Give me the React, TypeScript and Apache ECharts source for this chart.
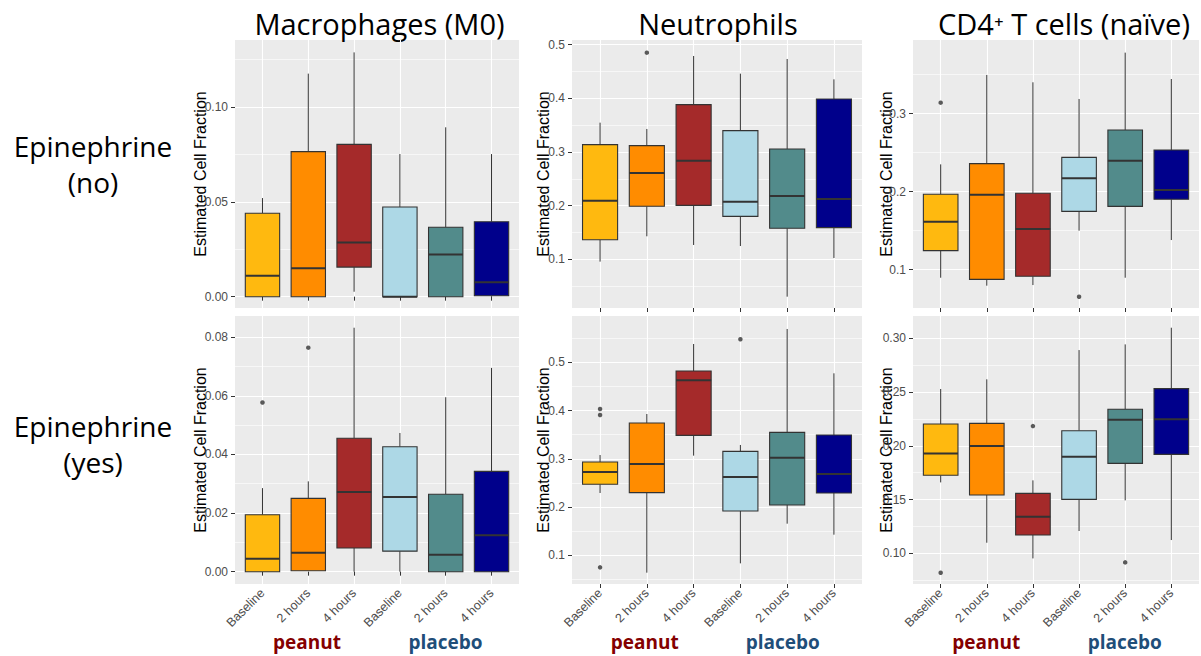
import React, { useEffect, useRef } from 'react';
import * as echarts from 'echarts';

const categories = ['Baseline', '2 hours', '4 hours', 'Baseline', '2 hours', '4 hours'];
const boxColors = ['#FFB90F', '#FF8C00', '#A52A2A', '#ADD8E6', '#528B8B', '#00008B'];
const columnTitles = ['Macrophages (M0)', 'Neutrophils', 'CD4⁺ T cells (naïve)'];
const rowTitles = ['Epinephrine\n(no)', 'Epinephrine\n(yes)'];
const groupLabels = ['peanut', 'placebo'];
const yAxisTitle = 'Estimated Cell Fraction';

// each box: [lower whisker, Q1, median, Q3, upper whisker]
const macroNo = [
  [0, 0, 0.011, 0.044, 0.052],
  [0, 0, 0.015, 0.0765, 0.1176],
  [0.0026, 0.0156, 0.0286, 0.0803, 0.1288],
  [0, 0, 0, 0.0473, 0.0752],
  [0, 0, 0.0223, 0.0366, 0.0893],
  [0, 0.0005, 0.0076, 0.0395, 0.0752],
];
const macroNoOut: number[][] = [];

const neutroNo = [
  [0.0957, 0.1366, 0.2093, 0.3137, 0.3547],
  [0.1429, 0.1988, 0.2609, 0.3118, 0.3429],
  [0.1267, 0.2006, 0.2839, 0.3882, 0.4789],
  [0.1248, 0.1801, 0.2075, 0.3398, 0.446],
  [0.0304, 0.1578, 0.218, 0.3056, 0.4733],
  [0.1025, 0.159, 0.2124, 0.3988, 0.4354],
];
const neutroNoOut = [[2, 0.4851]];

const cd4No = [
  [0.0897, 0.1244, 0.1615, 0.1966, 0.235],
  [0.0795, 0.0876, 0.1962, 0.2359, 0.3496],
  [0.0803, 0.0915, 0.1521, 0.1979, 0.3402],
  [0.15, 0.1748, 0.2171, 0.244, 0.3188],
  [0.0897, 0.1812, 0.2397, 0.2791, 0.3782],
  [0.138, 0.1902, 0.2021, 0.2534, 0.3444],
];
const cd4NoOut = [[1, 0.3141], [4, 0.0654]];

const macroYes = [
  [0, 0, 0.0044, 0.0194, 0.0285],
  [0.0003, 0.0003, 0.0065, 0.025, 0.0308],
  [0, 0.0081, 0.0272, 0.0455, 0.0832],
  [0, 0.007, 0.0255, 0.0426, 0.0473],
  [0, 0, 0.0058, 0.0264, 0.0595],
  [0, 0, 0.0124, 0.0342, 0.0695],
];
const macroYesOut = [[1, 0.0577], [2, 0.0764]];

const neutroYes = [
  [0.2292, 0.2472, 0.2727, 0.2934, 0.3079],
  [0.0641, 0.2299, 0.2893, 0.3743, 0.3929],
  [0.3066, 0.3487, 0.4627, 0.482, 0.538],
  [0.0834, 0.1919, 0.2624, 0.3155, 0.3287],
  [0.1656, 0.2043, 0.3024, 0.3549, 0.5691],
  [0.1428, 0.2292, 0.2686, 0.3494, 0.4772],
];
const neutroYesOut = [[1, 0.4033], [1, 0.3908], [1, 0.0751], [4, 0.5477]];

const cd4Yes = [
  [0.166, 0.1726, 0.193, 0.2203, 0.2529],
  [0.1099, 0.1543, 0.1998, 0.2209, 0.2619],
  [0.0953, 0.1171, 0.1341, 0.1558, 0.1679],
  [0.1208, 0.1502, 0.1899, 0.2141, 0.2891],
  [0.1493, 0.1837, 0.2243, 0.234, 0.2944],
  [0.1124, 0.1921, 0.2247, 0.2532, 0.3099],
];
const cd4YesOut = [[3, 0.2184], [5, 0.0916], [1, 0.082]];

const xTicks = [1, 2, 3, 4, 5, 6];

const panels = [
  { boxes: macroNo, out: macroNoOut, min: -0.00597, max: 0.13533, majors: [0, 0.05, 0.1], minors: [0.025, 0.075, 0.125], dec: 2 },
  { boxes: neutroNo, out: neutroNoOut, min: 0.0093, max: 0.5087, majors: [0.1, 0.2, 0.3, 0.4, 0.5], minors: [0.05, 0.15, 0.25, 0.35, 0.45], dec: 1 },
  { boxes: cd4No, out: cd4NoOut, min: 0.0509, max: 0.3944, majors: [0.1, 0.2, 0.3], minors: [0.15, 0.25, 0.35], dec: 1 },
  { boxes: macroYes, out: macroYesOut, min: -0.0042, max: 0.0872, majors: [0, 0.02, 0.04, 0.06, 0.08], minors: [0.01, 0.03, 0.05, 0.07], dec: 2 },
  { boxes: neutroYes, out: neutroYesOut, min: 0.0406, max: 0.596, majors: [0.1, 0.2, 0.3, 0.4, 0.5], minors: [0.05, 0.15, 0.25, 0.35, 0.45, 0.55], dec: 1 },
  { boxes: cd4Yes, out: cd4YesOut, min: 0.0715, max: 0.3208, majors: [0.1, 0.15, 0.2, 0.25, 0.3], minors: [0.075, 0.125, 0.175, 0.225, 0.275], dec: 2 },
];

const cols = [
  { left: 235, width: 284, yTitleX: 200, peanutX: 307, placeboX: 445.5 },
  { left: 572, width: 290, yTitleX: 543.5, peanutX: 644.7, placeboX: 782.8 },
  { left: 913, width: 286, yTitleX: 886.5, peanutX: 986.3, placeboX: 1124.7 },
];
const rows = [
  { top: 40, height: 268, labelY: 164 },
  { top: 316, height: 268, labelY: 444 },
];
const titleX = [379.5, 718, 1064];

function buildOption() {
  const grid: any[] = [];
  const xAxis: any[] = [];
  const yAxis: any[] = [];
  const series: any[] = [];
  panels.forEach((p, i) => {
    const r = Math.floor(i / 3);
    const c = i % 3;
    grid.push({
      left: cols[c].left, top: rows[r].top, width: cols[c].width, height: rows[r].height,
      show: true, backgroundColor: '#EBEBEB', borderWidth: 0,
    });
    xAxis.push({
      gridIndex: i, type: 'value', min: 0.4, max: 6.6,
      axisLine: { show: false },
      axisTick: { show: true, length: 4, lineStyle: { color: '#333333', width: 1 }, customValues: xTicks },
      axisLabel: {
        show: r === 1, customValues: xTicks, rotate: 45, margin: 7,
        formatter: (v: number) => categories[Math.round(v) - 1] || '',
        color: '#4D4D4D', fontSize: 12.5, fontFamily: 'Liberation Sans',
      },
      splitLine: { show: true, lineStyle: { color: '#FFFFFF', width: 1.1 } },
    });
    yAxis.push({
      gridIndex: i, type: 'value', min: p.min, max: p.max, position: 'left',
      axisLine: { show: false },
      axisTick: { show: true, length: 4, lineStyle: { color: '#333333', width: 1 }, customValues: p.majors },
      axisLabel: {
        customValues: p.majors, margin: 7,
        formatter: (v: number) => v.toFixed(p.dec),
        color: '#4D4D4D', fontSize: 12, fontFamily: 'Liberation Sans',
      },
      splitLine: { show: true, lineStyle: { color: '#FFFFFF', width: 1.1 } },
    });
    yAxis.push({
      gridIndex: i, type: 'value', min: p.min, max: p.max, position: 'left',
      axisLine: { show: false },
      axisTick: { show: false, customValues: p.minors },
      axisLabel: { show: false },
      splitLine: { show: true, lineStyle: { color: '#FFFFFF', width: 0.6 } },
    });
    series.push({
      type: 'custom', xAxisIndex: i, yAxisIndex: 2 * i, clip: false,
      encode: { x: 0, y: [1, 2, 3, 4, 5] },
      data: p.boxes.map((b, k) => [k + 1, ...b]),
      renderItem: (params: any, api: any) => {
        const x = api.value(0);
        const lo = api.coord([x, api.value(1)]);
        const q1 = api.coord([x, api.value(2)]);
        const md = api.coord([x, api.value(3)]);
        const q3 = api.coord([x, api.value(4)]);
        const hi = api.coord([x, api.value(5)]);
        const w = api.size([0.75, 0])[0];
        const fill = boxColors[params.dataIndex];
        const stroke = '#333333';
        return {
          type: 'group',
          children: [
            { type: 'line', shape: { x1: lo[0], y1: lo[1], x2: q1[0], y2: q1[1] }, style: { stroke, lineWidth: 1 } },
            { type: 'line', shape: { x1: q3[0], y1: q3[1], x2: hi[0], y2: hi[1] }, style: { stroke, lineWidth: 1 } },
            { type: 'rect', shape: { x: q1[0] - w / 2, y: q3[1], width: w, height: q1[1] - q3[1] }, style: { fill, stroke, lineWidth: 1.1 } },
            { type: 'line', shape: { x1: md[0] - w / 2, y1: md[1], x2: md[0] + w / 2, y2: md[1] }, style: { stroke, lineWidth: 2 } },
          ],
        };
      },
    });
    series.push({
      type: 'scatter', xAxisIndex: i, yAxisIndex: 2 * i,
      data: p.out, symbolSize: 4.5, itemStyle: { color: '#333333' },
    });
  });

  const graphic: any[] = [];
  columnTitles.forEach((t, c) => {
    graphic.push({
      type: 'text', x: titleX[c], y: 23,
      style: { text: t, fontSize: 29, fontFamily: 'Open Sans', fill: '#000000', align: 'center', verticalAlign: 'middle', textAlign: 'center', textVerticalAlign: 'middle' },
    });
  });
  rowTitles.forEach((t, r) => {
    graphic.push({
      type: 'text', x: 93, y: rows[r].labelY,
      style: { text: t, fontSize: 28, lineHeight: 36, fontFamily: 'Open Sans', fill: '#000000', align: 'center', verticalAlign: 'middle', textAlign: 'center', textVerticalAlign: 'middle' },
    });
    cols.forEach((col) => {
      graphic.push({
        type: 'text', x: col.yTitleX, y: rows[r].top + rows[r].height / 2, rotation: Math.PI / 2,
        style: { text: yAxisTitle, fontSize: 16, fontFamily: 'Liberation Sans', fill: '#000000', align: 'center', verticalAlign: 'middle', textAlign: 'center', textVerticalAlign: 'middle' },
      });
    });
  });
  cols.forEach((col) => {
    graphic.push({
      type: 'text', x: col.peanutX, y: 642,
      style: { text: groupLabels[0], fontSize: 19, fontWeight: 'bold', fontFamily: 'Open Sans', fill: '#840000', align: 'center', verticalAlign: 'middle', textAlign: 'center', textVerticalAlign: 'middle' },
    });
    graphic.push({
      type: 'text', x: col.placeboX, y: 642,
      style: { text: groupLabels[1], fontSize: 19, fontWeight: 'bold', fontFamily: 'Open Sans', fill: '#1F4E79', align: 'center', verticalAlign: 'middle', textAlign: 'center', textVerticalAlign: 'middle' },
    });
  });

  return { animation: false, backgroundColor: '#FFFFFF', grid, xAxis, yAxis, series, graphic };
}

export default function App() {
  const ref = useRef<HTMLDivElement>(null);
  useEffect(() => {
    if (!ref.current) return;
    const chart = echarts.init(ref.current, undefined, { renderer: 'svg' });
    chart.setOption(buildOption() as any);
    return () => chart.dispose();
  }, []);
  return <div ref={ref} style={{ position: 'fixed', left: 0, top: 0, width: 1201, height: 656 }} />;
}
